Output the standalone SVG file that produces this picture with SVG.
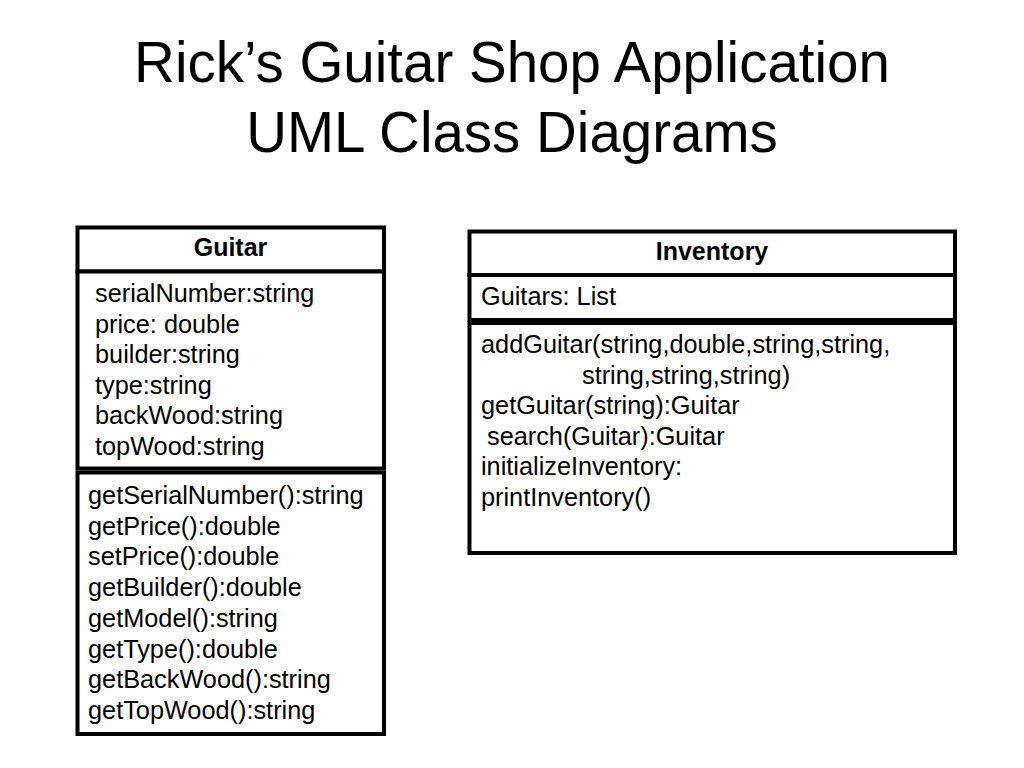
<svg xmlns="http://www.w3.org/2000/svg" width="1024" height="768" viewBox="0 0 1024 768">
<style>
.box{fill:#fff;stroke:#000;stroke-width:4}
.t{font-family:"Liberation Sans",Arial,sans-serif;font-size:25.3px;fill:#000}
.h{font-family:"Liberation Sans",Arial,sans-serif;font-size:25px;font-weight:bold;fill:#000;text-anchor:middle}
.title{font-family:"Liberation Sans",Arial,sans-serif;font-size:56.5px;fill:#000;text-anchor:middle}
</style>
<rect width="1024" height="768" fill="#fff"/>
<g id="title">
<text class="title" x="512" y="82">Rick’s Guitar Shop Application</text>
<text class="title" x="512" y="152">UML Class Diagrams</text>
</g>
<g id="guitar">
<rect class="box" x="77.5" y="227.5" width="306.5" height="44"/>
<rect class="box" x="77.5" y="271.5" width="306.5" height="197"/>
<rect class="box" x="77.5" y="472.5" width="306.5" height="261.5"/>
<text class="h" x="230.5" y="256">Guitar</text>
<text class="t" x="95" y="302">serialNumber:string</text>
<text class="t" x="95" y="332.5">price: double</text>
<text class="t" x="95" y="363">builder:string</text>
<text class="t" x="95" y="393.5">type:string</text>
<text class="t" x="95" y="424">backWood:string</text>
<text class="t" x="95" y="454.5">topWood:string</text>
<text class="t" x="88" y="504">getSerialNumber():string</text>
<text class="t" x="88" y="534.7">getPrice():double</text>
<text class="t" x="88" y="565.4">setPrice():double</text>
<text class="t" x="88" y="596.1">getBuilder():double</text>
<text class="t" x="88" y="626.8">getModel():string</text>
<text class="t" x="88" y="657.5">getType():double</text>
<text class="t" x="88" y="688.2">getBackWood():string</text>
<text class="t" x="88" y="718.9">getTopWood():string</text>
</g>
<g id="inventory">
<rect class="box" x="469.5" y="231.5" width="485.5" height="43.5"/>
<rect class="box" x="469.5" y="275" width="485.5" height="45"/>
<rect class="box" x="469.5" y="323" width="485.5" height="230"/>
<text class="h" x="712" y="260">Inventory</text>
<text class="t" x="481" y="305">Guitars: List</text>
<text class="t" x="481" y="353">addGuitar(string,double,string,string,</text>
<text class="t" x="582" y="383.5">string,string,string)</text>
<text class="t" x="481" y="414">getGuitar(string):Guitar</text>
<text class="t" x="487" y="444.5">search(Guitar):Guitar</text>
<text class="t" x="481" y="475">initializeInventory:</text>
<text class="t" x="481" y="505.5">printInventory()</text>
</g>
<g id="connectors"/>
</svg>
